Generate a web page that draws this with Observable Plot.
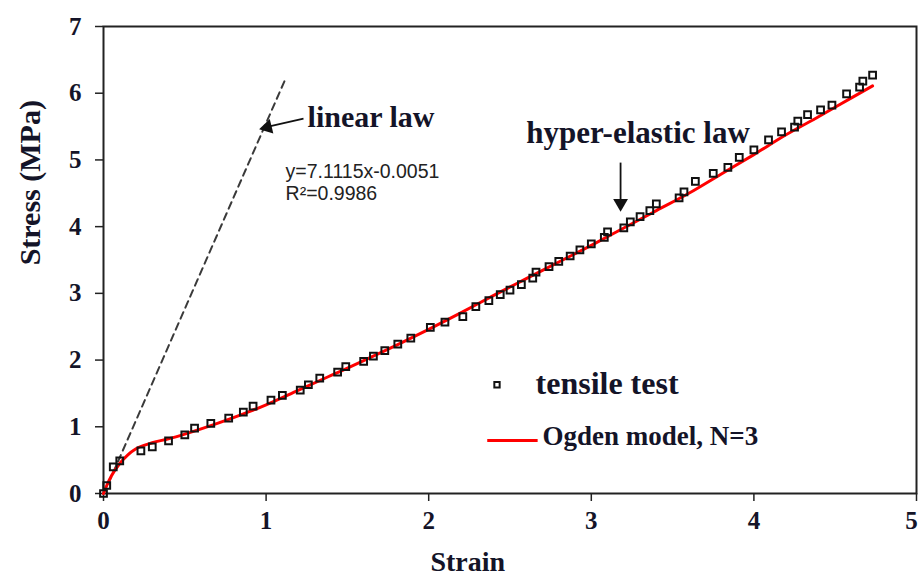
<!DOCTYPE html>
<html>
<head>
<meta charset="utf-8">
<script src="https://cdn.jsdelivr.net/npm/d3@7"></script>
<script src="https://cdn.jsdelivr.net/npm/@observablehq/plot@0.6"></script>
<style>
  html, body { margin: 0; padding: 0; background: #fff; }
  #chart svg { display: block; }
</style>
</head>
<body>
<div id="chart"></div>
<script>
// ---- data ----
const testStrain = [0, 0.02, 0.06, 0.10, 0.23, 0.30, 0.40, 0.50, 0.56, 0.66, 0.77, 0.86, 0.92, 1.03, 1.10,
  1.21, 1.26, 1.33, 1.44, 1.49, 1.60, 1.66, 1.73, 1.81, 1.89, 2.01, 2.10, 2.21, 2.29, 2.37, 2.44, 2.50,
  2.57, 2.64, 2.66, 2.74, 2.80, 2.87, 2.93, 3.00, 3.08, 3.10, 3.20, 3.24, 3.30, 3.36, 3.40, 3.54, 3.57,
  3.64, 3.75, 3.84, 3.91, 4.00, 4.09, 4.17, 4.25, 4.27, 4.33, 4.41, 4.48, 4.57, 4.65, 4.67, 4.73];
const testStress = [0, 0.12, 0.40, 0.49, 0.64, 0.70, 0.79, 0.88, 0.98, 1.05, 1.13, 1.22, 1.31, 1.40, 1.47,
  1.55, 1.63, 1.73, 1.82, 1.90, 1.98, 2.06, 2.14, 2.24, 2.33, 2.49, 2.57, 2.65, 2.80, 2.89, 2.98, 3.05,
  3.13, 3.23, 3.32, 3.40, 3.48, 3.56, 3.65, 3.74, 3.84, 3.92, 3.98, 4.07, 4.15, 4.24, 4.34, 4.43, 4.52,
  4.68, 4.80, 4.89, 5.04, 5.15, 5.30, 5.42, 5.49, 5.58, 5.68, 5.75, 5.82, 5.99, 6.09, 6.18, 6.27];

const ogdenStrain = [0, 0.02, 0.05, 0.10, 0.15, 0.20, 0.30, 0.40, 0.50, 0.70, 0.90, 1.00, 1.20, 1.40, 1.60,
  1.80, 2.00, 2.20, 2.40, 2.60, 2.80, 3.00, 3.20, 3.40, 3.60, 3.80, 4.00, 4.20, 4.40, 4.60, 4.73];
const ogdenStress = [0, 0.12, 0.27, 0.45, 0.58, 0.67, 0.76, 0.82, 0.89, 1.05, 1.23, 1.33, 1.55, 1.77, 1.99,
  2.22, 2.46, 2.71, 2.97, 3.22, 3.47, 3.72, 3.98, 4.24, 4.50, 4.79, 5.08, 5.38, 5.65, 5.93, 6.11];

const linearStrain = [0.03, 1.12];
const linearStress = [0.15, 6.22];

const xTicks = [0, 1, 2, 3, 4, 5];
const yTicks = [0, 1, 2, 3, 4, 5, 6, 7];

const equationLines = ["y=7.1115x-0.0051", "R\u00B2=0.9986"];
const legendLabels = ["tensile test", "Ogden model, N=3"];

// ---- tables built from the arrays ----
const test = testStrain.map((x, i) => ({x, y: testStress[i]}));
const ogden = ogdenStrain.map((x, i) => ({x, y: ogdenStress[i]}));
const linear = linearStrain.map((x, i) => ({x, y: linearStress[i]}));

const serif = "'Liberation Serif', 'Times New Roman', serif";
const sans = "'Liberation Sans', Arial, sans-serif";
const ink = "#141428";
const xLabelOpts = {frameAnchor: "bottom", lineAnchor: "top", dy: 18, fontSize: 25, fontWeight: "bold", fill: ink};

const chart = Plot.plot({
  width: 921,
  height: 576,
  marginLeft: 103,
  marginRight: 5,
  marginTop: 26,
  marginBottom: 83,
  style: {fontFamily: serif, color: ink, background: "#fff"},
  x: {domain: [0, 5]},
  y: {domain: [0, 7]},
  marks: [
    Plot.frame({stroke: "#222", strokeWidth: 2}),
    Plot.axisX({ticks: xTicks, tickSize: 8, tickFormat: () => "", label: null, stroke: "#222", strokeWidth: 1.5}),
    Plot.text(xTicks.slice(0, -1), {x: d => d, ...xLabelOpts}),
    Plot.text(xTicks.slice(-1), {x: d => d, dx: -5, ...xLabelOpts}),
    Plot.axisY({ticks: yTicks, tickSize: 8, tickPadding: 14, fontSize: 25, fontWeight: "bold",
      tickFormat: d => d, label: null, stroke: "#222", strokeWidth: 1.5}),
    Plot.text(["Strain"], {x: 2.24, frameAnchor: "bottom", dy: 77, fontSize: 28, fontWeight: "bold", fill: ink}),
    Plot.text(["Stress (MPa)"], {y: 3.42, frameAnchor: "left", dx: -73, rotate: -90, fontSize: 30, fontWeight: "bold", fill: ink}),

    // linear law dashed line
    Plot.line(linear, {x: "x", y: "y", stroke: "#3a3a3a", strokeWidth: 2, strokeDasharray: "7,5"}),
    // Ogden model curve
    Plot.line(ogden, {x: "x", y: "y", stroke: "#ff0000", strokeWidth: 3, curve: "monotone-x"}),
    // tensile test points
    Plot.dot(test, {x: "x", y: "y", symbol: "square", r: 3.8, stroke: "#111", strokeWidth: 2, fill: "none"}),

    // annotations
    Plot.text(["linear law"], {x: 1.255, y: 5.64, textAnchor: "start", fontSize: 30, fontWeight: "bold", fill: ink}),
    Plot.link([{x1: 1.23, y1: 5.62, x2: 1.0, y2: 5.49}], {x1: "x1", y1: "y1", x2: "x2", y2: "y2", stroke: "#111", strokeWidth: 1.8}),
    Plot.dot([{x: 1.008, y: 5.49}], {x: "x", y: "y", symbol: "triangle", r: 5.5, fill: "#111", rotate: 256}),
    Plot.text(equationLines, {x: 1.12, y: (d, i) => [4.82, 4.50][i], textAnchor: "start", fontSize: 19.5, fontFamily: sans, fill: "#222"}),

    Plot.text(["hyper-elastic law"], {x: 2.60, y: 5.40, textAnchor: "start", fontSize: 31, fontWeight: "bold", fill: ink}),
    Plot.link([{x1: 3.18, y1: 4.96, x2: 3.18, y2: 4.38}], {x1: "x1", y1: "y1", x2: "x2", y2: "y2", stroke: "#111", strokeWidth: 1.8}),
    Plot.dot([{x: 3.18, y: 4.35}], {x: "x", y: "y", symbol: "triangle", r: 5.5, fill: "#111", rotate: 180}),

    // legend
    Plot.dot([{x: 2.42, y: 1.63}], {x: "x", y: "y", symbol: "square", r: 3, stroke: "#111", strokeWidth: 2, fill: "none"}),
    Plot.link([{x1: 2.36, x2: 2.67, y: 0.795}], {x1: "x1", x2: "x2", y1: "y", y2: "y", stroke: "#ff0000", strokeWidth: 3}),
    Plot.text(legendLabels, {x: (d, i) => [2.657, 2.70][i], y: (d, i) => [1.65, 0.855][i], textAnchor: "start",
      fontSize: (d, i) => [32, 27][i], fontWeight: "bold", fill: ink})
  ]
});
document.getElementById("chart").appendChild(chart);
</script>
</body>
</html>
